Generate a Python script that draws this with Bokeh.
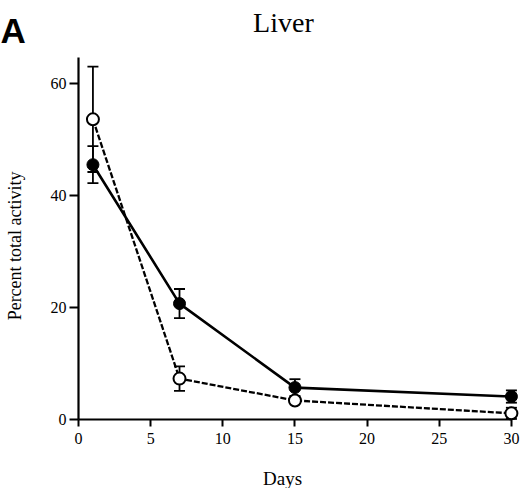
# Liver: percent total activity over days (filled vs open symbols)
import math

from bokeh.embed import file_html
from bokeh.models import ColumnDataSource, FixedTicker, Label, Range1d, TeeHead, Whisker
from bokeh.plotting import figure
from bokeh.resources import INLINE

# data
days = [1, 7, 15, 30]
filled_mean = [45.5, 20.7, 5.7, 4.1]
filled_err = [3.3, 2.6, 1.5, 1.1]
open_mean = [53.6, 7.3, 3.4, 1.1]
open_err = [9.4, 2.2, 0.5, 1.0]
x_ticks = [0, 5, 10, 15, 20, 25, 30]
y_ticks = [0, 20, 40, 60]

serif = "Liberation Serif"

src_filled = ColumnDataSource(data=dict(
    x=days, y=filled_mean,
    lo=[m - e for m, e in zip(filled_mean, filled_err)],
    hi=[m + e for m, e in zip(filled_mean, filled_err)]))
src_open = ColumnDataSource(data=dict(
    x=days, y=open_mean,
    lo=[m - e for m, e in zip(open_mean, open_err)],
    hi=[m + e for m, e in zip(open_mean, open_err)]))

# frame covers the whole canvas, the axes sit inside it at 0
p = figure(width=520, height=488, x_range=Range1d(-5.405, 30.63), y_range=Range1d(-12.32, 74.82),
           output_backend="svg", toolbar_location=None,
           min_border_left=0, min_border_right=0, min_border_top=0, min_border_bottom=0)
p.title.visible = False
p.outline_line_color = None
p.grid.visible = False
p.background_fill_color = "white"

# error bars
for src in (src_filled, src_open):
    w = Whisker(source=src, base="x", upper="hi", lower="lo", line_width=1.8, line_color="black",
                upper_head=TeeHead(size=11, line_width=1.8, line_color="black"),
                lower_head=TeeHead(size=11, line_width=1.8, line_color="black"),
                level="underlay")
    p.add_layout(w)

p.line("x", "y", source=src_filled, line_width=2.6, color="black")
p.line("x", "y", source=src_open, line_width=2.3, color="black", line_dash="6 2")
p.scatter("x", "y", source=src_filled, size=12, fill_color="black", line_color="black")
p.scatter("x", "y", source=src_open, size=12, fill_color="white", line_color="black", line_width=2)

# axes
for ax in (p.xaxis[0], p.yaxis[0]):
    ax.fixed_location = 0
    ax.axis_line_width = 2.2
    ax.major_tick_line_width = 2
    ax.major_tick_in = 0
    ax.minor_tick_line_color = None
    ax.major_label_text_font = serif
    ax.major_label_text_font_size = "16px"
    ax.major_label_text_color = "black"

p.xaxis.ticker = FixedTicker(ticks=x_ticks)
p.xaxis.bounds = (0, 30)
p.xaxis.major_tick_out = 7
p.xaxis.major_label_standoff = 6

p.yaxis.ticker = FixedTicker(ticks=y_ticks)
p.yaxis.bounds = (0, 64.6)
p.yaxis.major_tick_out = 9
p.yaxis.major_label_standoff = 3

# texts
p.add_layout(Label(x=14.2, y=70.9, text="Liver", text_font=serif, text_font_size="28px",
                   text_align="center", text_baseline="alphabetic", text_color="black"))
p.add_layout(Label(x=-5.405, y=69.46, text="A", text_font="Liberation Sans", text_font_style="bold",
                   text_font_size="35px", text_align="left", text_baseline="alphabetic",
                   text_color="black"))
p.add_layout(Label(x=14.14, y=-10.6, text="Days", text_font=serif, text_font_size="19px",
                   text_align="center", text_baseline="alphabetic", text_color="black"))
p.add_layout(Label(x=-4.37, y=31.0, text="Percent total activity", angle=math.pi / 2,
                   text_font=serif, text_font_size="18px", text_align="center",
                   text_baseline="alphabetic", text_color="black"))

open("out.html", "w").write(file_html(p, INLINE))
